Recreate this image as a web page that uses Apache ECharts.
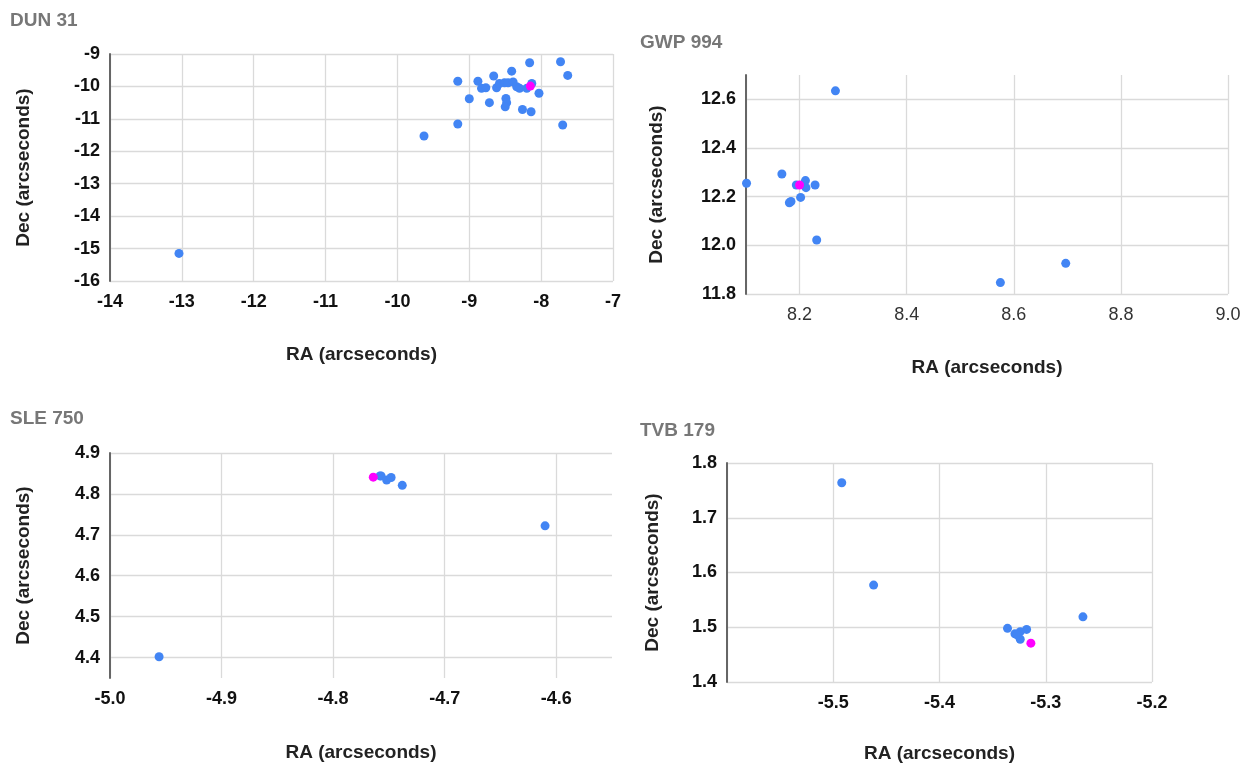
<!DOCTYPE html>
<html>
<head>
<meta charset="utf-8">
<script src="https://cdn.jsdelivr.net/npm/echarts@6/dist/echarts.min.js"></script>
<style>
  html, body { margin: 0; padding: 0; background: #fff; }
  #chart { width: 1252px; height: 766px; }
</style>
</head>
<body>
<div id="chart"></div>
<script>
// DUN 31
const dunRa = [-13.04, -9.63, -9.16, -9.16, -9.00, -8.88, -8.83, -8.77, -8.72, -8.66, -8.62, -8.58, -8.49, -8.48, -8.50,
  -8.51, -8.46, -8.41, -8.39, -8.34, -8.30, -8.26, -8.16, -8.14, -8.13, -8.20, -8.03, -7.73, -7.63, -7.70]
const dunDec = [-15.15, -11.53, -11.16, -9.84, -10.38, -9.84, -10.06, -10.04, -10.50, -9.68, -10.04, -9.91, -10.37, -10.50, -10.63,
  -9.89, -9.89, -9.53, -9.86, -10.01, -10.06, -10.71, -9.27, -10.78, -9.91, -10.06, -10.21, -9.24, -9.66, -11.19]
const dunRefRa = [-8.15]
const dunRefDec = [-9.99]

// GWP 994
const gwpRa = [8.267, 8.167, 8.101, 8.194, 8.211, 8.212, 8.229, 8.202, 8.181, 8.184, 8.232, 8.575, 8.697]
const gwpDec = [12.635, 12.293, 12.255, 12.248, 12.266, 12.237, 12.248, 12.197, 12.175, 12.18, 12.022, 11.847, 11.926]
const gwpRefRa = [8.2]
const gwpRefDec = [12.248]

// SLE 750
const sleRa = [-4.956, -4.758, -4.757, -4.752, -4.748, -4.738, -4.610]
const sleDec = [4.402, 4.844, 4.844, 4.834, 4.840, 4.821, 4.722]
const sleRefRa = [-4.764]
const sleRefDec = [4.841]

// TVB 179
const tvbRa = [-5.492, -5.462, -5.336, -5.329, -5.324, -5.324, -5.327, -5.318, -5.265]
const tvbDec = [1.764, 1.577, 1.498, 1.488, 1.492, 1.478, 1.486, 1.496, 1.519]
const tvbRefRa = [-5.314]
const tvbRefDec = [1.471]

const titles = ['DUN 31', 'GWP 994', 'SLE 750', 'TVB 179']
const xName = 'RA (arcseconds)'
const yName = 'Dec (arcseconds)'

const BLUE = '#4285F4'
const MAGENTA = '#FF00FF'
const GRID_LINE = '#dadada'
const FONT = 'Liberation Sans'

const pairs = (xs, ys) => xs.map((x, i) => [x, ys[i]])
const fmt1 = v => v.toFixed(1)
const fmt0 = v => String(Math.round(v))

function xAxis (idx, opts, labelBold, nameGap) {
  return Object.assign({
    type: 'value',
    gridIndex: idx,
    name: xName,
    nameLocation: 'middle',
    nameGap: nameGap,
    nameTextStyle: { fontFamily: FONT, fontSize: 19, fontWeight: 'bold', color: '#222' },
    axisLine: { show: false },
    axisTick: { show: false },
    axisLabel: {
      fontFamily: FONT,
      fontSize: 18,
      fontWeight: labelBold ? 'bold' : 'normal',
      color: labelBold ? '#111' : '#333',
      margin: 12
    },
    splitLine: { show: true, lineStyle: { color: GRID_LINE, width: 1.3 } }
  }, opts)
}

function yAxis (idx, opts, nameGap) {
  return Object.assign({
    type: 'value',
    gridIndex: idx,
    name: yName,
    nameLocation: 'middle',
    nameGap: nameGap,
    nameTextStyle: { fontFamily: FONT, fontSize: 19, fontWeight: 'bold', color: '#222' },
    axisLine: { show: true, onZero: false, lineStyle: { color: '#666', width: 2 } },
    axisTick: { show: false },
    axisLabel: { fontFamily: FONT, fontSize: 18, fontWeight: 'bold', color: '#111', margin: 10 },
    splitLine: { show: true, lineStyle: { color: GRID_LINE, width: 1.3 } }
  }, opts)
}

function mergeLabel (axis, extra) {
  axis.axisLabel = Object.assign({}, axis.axisLabel, extra)
  return axis
}

const chart = echarts.init(document.getElementById('chart'), null, { renderer: 'canvas' })

const titlePos = [[10, 11], [640, 33], [10, 409], [640, 421]]

const option = {
  animation: false,
  backgroundColor: '#fff',
  title: titles.map((t, i) => ({
    text: t,
    left: titlePos[i][0],
    top: titlePos[i][1],
    padding: 0,
    textStyle: { fontFamily: FONT, fontSize: 19, fontWeight: 'bold', color: '#777' }
  })),
  grid: [
    { left: 110, top: 54, width: 503, height: 227 },
    { left: 746, top: 75, width: 482, height: 219 },
    { left: 110, top: 453, width: 502, height: 225 },
    { left: 727, top: 463, width: 425, height: 219 }
  ],
  xAxis: [
    mergeLabel(xAxis(0, { min: -14, max: -7, interval: 1 }, true, 64), { formatter: fmt0 }),
    mergeLabel(xAxis(1, { min: 8.1, max: 9.0 }, false, 64), { formatter: fmt1, showMinLabel: false }),
    (() => {
      const a = mergeLabel(xAxis(2, { min: -5.0, max: -4.55, interval: 0.1 }, true, 65), { formatter: fmt1, showMaxLabel: false })
      a.splitLine.showMaxLine = false
      return a
    })(),
    mergeLabel(xAxis(3, { min: -5.6, max: -5.2, interval: 0.1 }, true, 62), { formatter: fmt1, showMinLabel: false })
  ],
  yAxis: [
    mergeLabel(yAxis(0, { min: -16, max: -9, interval: 1 }, 77), { formatter: fmt0 }),
    (() => {
      const a = mergeLabel(yAxis(1, { min: 11.8, max: 12.7, interval: 0.2 }, 80), { formatter: fmt1, showMaxLabel: false })
      a.splitLine.showMaxLine = false
      return a
    })(),
    (() => {
      const a = mergeLabel(yAxis(2, { min: 4.35, max: 4.9 }, 77), { formatter: fmt1, showMinLabel: false })
      a.splitLine.showMinLine = false
      return a
    })(),
    mergeLabel(yAxis(3, { min: 1.4, max: 1.8, interval: 0.1 }, 65), { formatter: fmt1 })
  ],
  series: [
    [dunRa, dunDec, dunRefRa, dunRefDec],
    [gwpRa, gwpDec, gwpRefRa, gwpRefDec],
    [sleRa, sleDec, sleRefRa, sleRefDec],
    [tvbRa, tvbDec, tvbRefRa, tvbRefDec]
  ].flatMap((d, i) => [
    {
      type: 'scatter',
      xAxisIndex: i,
      yAxisIndex: i,
      symbolSize: 9,
      itemStyle: { color: BLUE, opacity: 1 },
      data: pairs(d[0], d[1])
    },
    {
      type: 'scatter',
      xAxisIndex: i,
      yAxisIndex: i,
      symbolSize: 9,
      z: 3,
      itemStyle: { color: MAGENTA, opacity: 1 },
      data: pairs(d[2], d[3])
    }
  ])
}

chart.setOption(option)
</script>
</body>
</html>
